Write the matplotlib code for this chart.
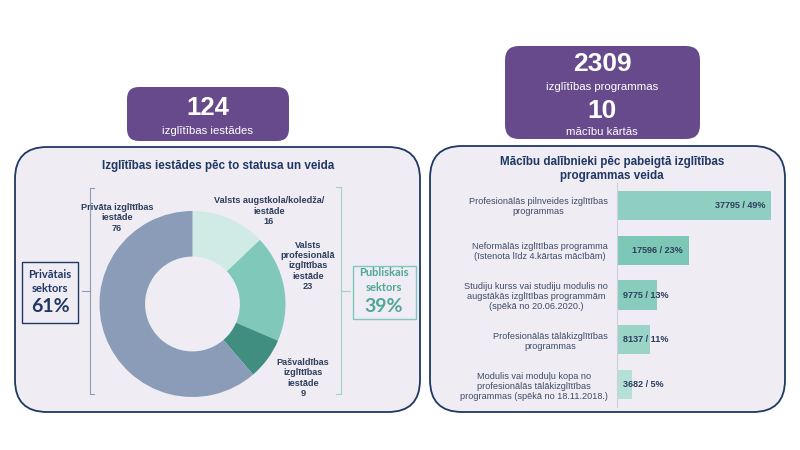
import numpy as np
import matplotlib.pyplot as plt
from matplotlib.patches import FancyBboxPatch, Rectangle

plt.rcParams['font.family'] = ['Liberation Sans', 'DejaVu Sans']

# --- data ---
n_iestades = 124
n_programmas = 2309
n_kartas = 10

pie_labels = ["Valsts augstkola/koledža/\niestāde",
              "Valsts\nprofesionālā\nizglītības\niestāde",
              "Pašvaldības\nizglītības\niestāde",
              "Privāta izglītības\niestāde"]
pie_values = [16, 23, 9, 76]
pie_colors = ["#d0ebe5", "#80c9b9", "#3f8e7f", "#8a9cb8"]

privatais_pct = 61
publiskais_pct = 39

bar_labels = ["Profesionālās pilnveides izglītības\nprogrammas",
              "Neformālās izglītības programma\n(īstenota līdz 4.kārtas mācībām)",
              "Studiju kurss vai studiju modulis no\naugstākās izglītības programmām\n(spēkā no 20.06.2020.)",
              "Profesionālās tālākizglītības\nprogrammas",
              "Modulis vai moduļu kopa no\nprofesionālās tālākizglītības\nprogrammas (spēkā no 18.11.2018.)"]
bar_values = [37795, 17596, 9775, 8137, 3682]
bar_pct = [49, 23, 13, 11, 5]
bar_colors = ["#8ecfc1", "#7dc7b6", "#87ccbd", "#99d4c7", "#b4e0d6"]

navy = "#1f3864"
purple = "#674a8c"
panel_bg = "#efecf3"
teal_txt = "#4fa893"

W, H = 800, 450
fig = plt.figure(figsize=(8, 4.5), dpi=100)
bg = fig.add_axes([0, 0, 1, 1])
bg.set_xlim(0, W)
bg.set_ylim(H, 0)
bg.axis('off')

def rbox(x0, y0, x1, y1, r, fc, ec, lw):
    bg.add_patch(FancyBboxPatch((x0, y0), x1 - x0, y1 - y0,
                                boxstyle=f"round,pad=0,rounding_size={r}",
                                fc=fc, ec=ec, lw=lw))

# panels
rbox(15, 147, 420, 412, 32, panel_bg, navy, 1.3)
rbox(430, 146, 785, 412, 32, panel_bg, navy, 1.3)

# purple header boxes
rbox(127, 87, 289, 141, 12, purple, "none", 0)
bg.text(208, 108, str(n_iestades), color="white", fontsize=18.5, fontweight='bold',
        ha='center', va='center')
bg.text(208, 131, "izglītības iestādes", color="white", fontsize=8.2, ha='center', va='center')

rbox(505, 46, 700, 139, 14, purple, "none", 0)
bg.text(602, 64, str(n_programmas), color="white", fontsize=19, fontweight='bold',
        ha='center', va='center')
bg.text(602, 87, "izglītības programmas", color="white", fontsize=8.2, ha='center', va='center')
bg.text(602, 111, str(n_kartas), color="white", fontsize=19, fontweight='bold',
        ha='center', va='center')
bg.text(602, 132, "mācību kārtās", color="white", fontsize=8.2, ha='center', va='center')

# titles
bg.text(218, 166, "Izglītības iestādes pēc to statusa un veida", color=navy,
        fontsize=8.4, fontweight='bold', ha='center', va='center')
bg.text(612, 169, "Mācību dalībnieki pēc pabeigtā izglītības\nprogrammas veida", color=navy,
        fontsize=8.4, fontweight='bold', ha='center', va='center', linespacing=1.15)

# brackets
lc, rc = "#8d9cb5", "#9fd5c9"
bg.plot([94, 90, 90, 94], [188, 188, 394, 394], color=lc, lw=0.8)
bg.plot([90, 82], [291, 291], color=lc, lw=0.8)
bg.plot([336, 341, 341, 336], [187, 187, 394, 394], color=rc, lw=0.8)
bg.plot([341, 350], [291, 291], color=rc, lw=0.8)

# sector boxes
lato = ['Lato', 'DejaVu Sans']
bg.add_patch(Rectangle((22, 262), 56, 61, fc="none", ec=navy, lw=1.0))
bg.text(50, 274, "Privātais", color=navy, fontsize=8, fontweight='bold',
        ha='center', va='center', family=lato)
bg.text(50, 288, "sektors", color=navy, fontsize=8, fontweight='bold',
        ha='center', va='center', family=lato)
bg.text(50, 307, f"{privatais_pct}%", color=navy, fontsize=14, fontweight='bold',
        ha='center', va='center', family=lato)

bg.add_patch(Rectangle((353, 266), 63, 53, fc="none", ec="#80c9b9", lw=1.0))
bg.text(384, 273, "Publiskais", color=teal_txt, fontsize=8, fontweight='bold',
        ha='center', va='center', family=lato)
bg.text(384, 287.5, "sektors", color=teal_txt, fontsize=8, fontweight='bold',
        ha='center', va='center', family=lato)
bg.text(384, 306, f"{publiskais_pct}%", color=teal_txt, fontsize=14, fontweight='bold',
        ha='center', va='center', family=lato)

# donut
cx, cy, r = 192.5, 304, 93
pax = fig.add_axes([(cx - r) / W, (H - cy - r) / H, 2 * r / W, 2 * r / H])
pax.pie(pie_values, colors=pie_colors, startangle=90, counterclock=False,
        wedgeprops=dict(width=0.49, edgecolor='none'))
pax.set_xlim(-1, 1)
pax.set_ylim(-1, 1)
pax.set_facecolor('none')

label_pos = [(269, 211), (308, 266), (303, 378), (117, 218)]
for (lx, ly), lab, v in zip(label_pos, pie_labels, pie_values):
    bg.text(lx, ly, f"{lab}\n{v}", color="#2e3f5c", fontsize=6.6, fontweight='bold',
            ha='center', va='center', linespacing=1.15)

# horizontal bars
top, bot = 183, 407
x0 = 617
xmax = 40000
x1 = x0 + xmax * (771 - 617) / bar_values[0]
bax = fig.add_axes([x0 / W, (H - bot) / H, (x1 - x0) / W, (bot - top) / H])
ypos = np.arange(len(bar_values))
bax.barh(ypos, bar_values, height=0.65, color=bar_colors)
bax.set_xlim(0, xmax)
bax.set_ylim(len(bar_values) - 0.5, -0.5)
bax.set_facecolor('none')
for s in ['top', 'right', 'bottom']:
    bax.spines[s].set_visible(False)
bax.spines['left'].set_color("#d0d0d8")
bax.spines['left'].set_linewidth(0.8)
bax.set_xticks([])
bax.set_yticks(ypos)
bax.set_yticklabels(bar_labels, fontsize=6.6, color="#3d4b68", linespacing=1.15)
for t in bax.get_yticklabels():
    t.set_multialignment('center')
bax.tick_params(axis='y', length=0, pad=6.5)

for i, (v, p) in enumerate(zip(bar_values, bar_pct)):
    txt = f"{v} / {p}%"
    if v > 15000:
        bax.annotate(txt, (v, i), xytext=(-4, 0), textcoords='offset points',
                     ha='right', va='center', fontsize=6.5, fontweight='bold', color="#2c3e5c")
    else:
        bax.annotate(txt, (0, i), xytext=(4, 0), textcoords='offset points',
                     ha='left', va='center', fontsize=6.5, fontweight='bold', color="#2c3e5c")

fig.savefig("out.png", dpi=100, facecolor="white")
